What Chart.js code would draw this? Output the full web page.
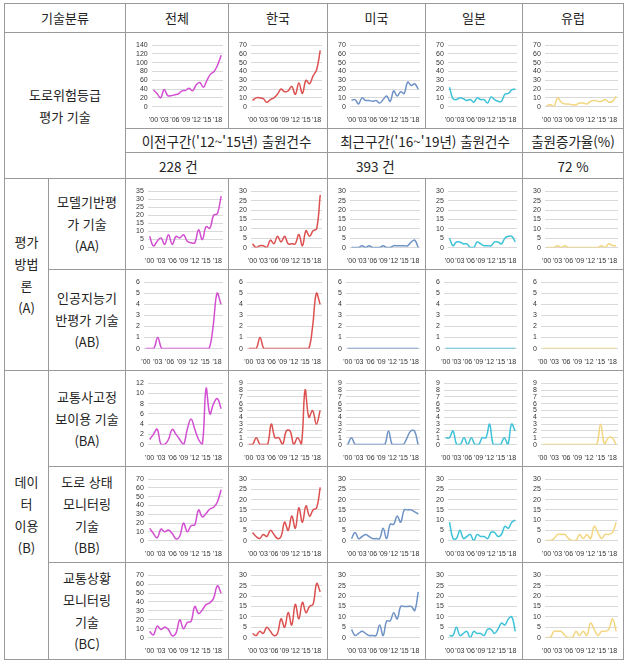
<!DOCTYPE html>
<html lang="ko">
<head>
<meta charset="utf-8">
<script src="https://cdn.jsdelivr.net/npm/chart.js@4"></script>
<style>
  html, body { margin: 0; padding: 0; background: #fff; }
  body { width: 627px; height: 669px; overflow: hidden; position: relative;
         font-family: "Noto Sans CJK KR", "Noto Sans", sans-serif; color: #222; }
  table { position: absolute; left: 4px; top: 3px; width: 619px;
          border-collapse: collapse; table-layout: fixed; }
  td, th { border: 1px solid #999; padding: 0; text-align: center; vertical-align: middle;
           font-size: 13px; line-height: 22px; font-weight: normal; }
  .info { font-size: 13.5px; }
  .box { position: relative; margin: 0 3px 0 6px; }
</style>
</head>
<body>
<table>
  <colgroup>
    <col style="width:44px"><col style="width:77px"><col style="width:103px">
    <col style="width:99px"><col style="width:98px"><col style="width:97px"><col style="width:101px">
  </colgroup>
  <tr style="height:29px">
    <th colspan="2">기술분류</th><th>전체</th><th>한국</th><th>미국</th><th>일본</th><th>유럽</th>
  </tr>
  <tr style="height:96px" id="row-risk">
    <td colspan="2" rowspan="3">도로위험등급<br>평가 기술</td>
  </tr>
  <tr style="height:24px">
    <td colspan="2" class="info">이전구간('12~'15년) 출원건수</td>
    <td colspan="2" class="info">최근구간('16~'19년) 출원건수</td>
    <td class="info">출원증가율(%)</td>
  </tr>
  <tr style="height:26px">
    <td colspan="2" class="info" id="prevCount" style="text-align:left;padding-left:33px"></td>
    <td colspan="2" class="info" id="recentCount" style="text-align:left;padding-left:28px"></td>
    <td class="info" id="growthRate"></td>
  </tr>
  <tr style="height:91px" id="row-aa">
    <td rowspan="2">평가<br>방법<br>론<br>(A)</td>
    <td>모델기반평<br>가 기술<br>(AA)</td>
  </tr>
  <tr style="height:101px" id="row-ab">
    <td>인공지능기<br>반평가 기술<br>(AB)</td>
  </tr>
  <tr style="height:96px" id="row-ba">
    <td rowspan="3">데이<br>터<br>이용<br>(B)</td>
    <td>교통사고정<br>보이용 기술<br>(BA)</td>
  </tr>
  <tr style="height:96px" id="row-bb">
    <td>도로 상태<br>모니터링<br>기술<br>(BB)</td>
  </tr>
  <tr style="height:97px" id="row-bc">
    <td>교통상황<br>모니터링<br>기술<br>(BC)</td>
  </tr>
</table>

<script>
const yearLabels = ["'00","'01","'02","'03","'04","'05","'06","'07","'08","'09",
                    "'10","'11","'12","'13","'14","'15","'16","'17","'18","'19"];
const regions = ['전체', '한국', '미국', '일본', '유럽'];
const regionColors = ['#d24fd2', '#dc5050', '#6f93c6', '#3ec2d8', '#f2d680'];

// 도로위험등급 평가 기술
const riskTotal  = [38,30,20,39,25,25,27,29,36,37,42,36,50,55,44,60,74,80,95,117];
const riskKorea  = [7,10,10,9,5,8,10,14,20,17,18,23,14,27,15,30,26,35,42,64];
const riskUS     = [7,8,3,10,7,7,6,7,4,8,12,6,18,12,17,15,28,24,26,20];
const riskJapan  = [22,9,8,10,9,7,8,5,10,8,8,4,11,8,6,6,14,15,19,20];
const riskEurope = [1,2,0,10,5,3,3,2,2,4,4,3,6,7,6,6,8,5,6,12];
const riskAxisMax  = [140, 70, 70, 70, 70];
const riskAxisStep = [20, 10, 10, 10, 10];

// 모델기반평가 기술 (AA)
const aaTotal  = [7,1,4,6,2,8,2,7,6,8,4,3,3,11,5,13,12,20,21,32];
const aaKorea  = [2,0,1,1,0,4,2,6,3,6,2,2,2,7,1,9,6,9,10,28];
const aaUS     = [0,0,0,1,0,1,0,0,0,1,0,0,1,1,1,1,1,3,4,0];
const aaJapan  = [5,1,3,3,2,2,0,0,3,2,1,1,1,3,3,2,5,6,6,3];
const aaEurope = [0,0,0,1,0,1,0,0,0,0,0,0,0,0,0,1,0,2,1,1];
const aaAxisMax  = [35, 30, 30, 30, 30];
const aaAxisStep = [5, 5, 5, 5, 5];

// 인공지능기반평가 기술 (AB)
const abTotal  = [0,0,0,1,0,0,0,0,0,0,0,0,0,0,0,0,0,2,5,4];
const abKorea  = [0,0,0,1,0,0,0,0,0,0,0,0,0,0,0,0,0,2,5,4];
const abUS     = [0,0,0,0,0,0,0,0,0,0,0,0,0,0,0,0,0,0,0,0];
const abJapan  = [0,0,0,0,0,0,0,0,0,0,0,0,0,0,0,0,0,0,0,0];
const abEurope = [0,0,0,0,0,0,0,0,0,0,0,0,0,0,0,0,0,0,0,0];
const abAxisMax  = [6, 6, 6, 6, 6];
const abAxisStep = [1, 1, 1, 1, 1];

// 교통사고정보이용 기술 (BA)
const baTotal  = [1,2,3,0,0,1,3,2,1,0,3,5,3,1,0,11,6,8,9,7];
const baKorea  = [0,0,1,0,0,0,3,1,1,0,2,2,0,1,0,8,4,5,3,5];
const baUS     = [0,1,0,0,0,0,0,0,0,0,0,2,0,0,0,0,1,2,2,0];
const baJapan  = [1,1,2,0,0,1,0,1,0,0,1,1,3,0,0,0,1,0,3,2];
const baEurope = [0,0,0,0,0,0,0,0,0,0,0,0,0,0,0,3,0,1,1,0];
const baAxisMax  = [12, 9, 9, 9, 9];
const baAxisStep = [2, 1, 1, 1, 1];

// 도로 상태 모니터링 기술 (BB)
const bbTotal  = [14,8,3,13,10,12,8,2,5,20,10,17,18,35,27,31,36,38,44,58];
const bbKorea  = [4,2,1,3,2,5,3,1,2,9,5,12,6,16,9,17,12,15,16,26];
const bbUS     = [1,4,1,2,3,2,1,1,1,6,1,8,8,12,9,15,15,15,14,13];
const bbJapan  = [9,1,1,5,1,2,3,0,3,2,2,1,4,4,2,3,7,6,9,10];
const bbEurope = [0,0,1,3,3,3,1,0,0,3,1,3,1,7,4,1,3,3,4,9];
const bbAxisMax  = [70, 30, 30, 30, 30];
const bbAxisStep = [10, 5, 5, 5, 5];

// 교통상황 모니터링 기술 (BC)
const bcTotal  = [7,3,13,9,12,9,2,5,20,10,17,18,35,27,31,37,39,44,58,50];
const bcKorea  = [2,1,3,2,5,3,1,2,9,5,12,6,16,9,17,12,15,16,26,22];
const bcUS     = [4,1,2,3,2,1,1,1,6,1,8,8,12,9,15,15,15,15,13,22];
const bcJapan  = [1,1,5,1,2,3,0,3,2,2,1,4,4,2,4,7,6,9,10,3];
const bcEurope = [0,0,3,3,3,1,0,0,3,1,3,1,7,4,1,3,3,4,9,3];
const bcAxisMax  = [70, 30, 30, 30, 30];
const bcAxisStep = [10, 5, 5, 5, 5];

// 출원건수 요약
const prevCount = 228;
const recentCount = 393;
const growthRate = 72;

document.getElementById('prevCount').textContent = prevCount + ' 건';
document.getElementById('recentCount').textContent = recentCount + ' 건';
document.getElementById('growthRate').textContent = growthRate + ' %';

const rows = [
  { id: 'row-risk', series: [riskTotal, riskKorea, riskUS, riskJapan, riskEurope], max: riskAxisMax, step: riskAxisStep },
  { id: 'row-aa', series: [aaTotal, aaKorea, aaUS, aaJapan, aaEurope], max: aaAxisMax, step: aaAxisStep },
  { id: 'row-ab', series: [abTotal, abKorea, abUS, abJapan, abEurope], max: abAxisMax, step: abAxisStep },
  { id: 'row-ba', series: [baTotal, baKorea, baUS, baJapan, baEurope], max: baAxisMax, step: baAxisStep },
  { id: 'row-bb', series: [bbTotal, bbKorea, bbUS, bbJapan, bbEurope], max: bbAxisMax, step: bbAxisStep },
  { id: 'row-bc', series: [bcTotal, bcKorea, bcUS, bcJapan, bcEurope], max: bcAxisMax, step: bcAxisStep },
];

const colWidths = [103, 99, 98, 97, 101];
const tickFont = { family: 'Liberation Sans, Arial, sans-serif', size: 7 };

rows.forEach(row => {
  const tr = document.getElementById(row.id);
  const rowH = parseInt(tr.style.height);
  row.series.forEach((values, i) => {
    const td = document.createElement('td');
    const box = document.createElement('div');
    box.className = 'box';
    box.style.width = (colWidths[i] - 10) + 'px';
    box.style.height = (rowH - 8) + 'px';
    const canvas = document.createElement('canvas');
    box.appendChild(canvas);
    td.appendChild(box);
    tr.appendChild(td);

    new Chart(canvas, {
      type: 'line',
      data: {
        labels: yearLabels,
        datasets: [{
          label: regions[i],
          data: values,
          borderColor: regionColors[i],
          borderWidth: 1.5,
          pointRadius: 0,
          tension: 0.4,
          fill: false
        }]
      },
      options: {
        responsive: true,
        maintainAspectRatio: false,
        animation: false,
        layout: { padding: { top: 3, right: 2, left: 0, bottom: 0 } },
        plugins: { legend: { display: false }, tooltip: { enabled: false } },
        scales: {
          x: {
            offset: true,
            grid: { display: false },
            border: { display: false },
            ticks: {
              autoSkip: false, maxRotation: 0, minRotation: 0, padding: 1,
              font: tickFont, color: '#333',
              callback: (v, idx) => idx % 3 === 0 ? yearLabels[idx] : ''
            }
          },
          y: {
            min: 0, max: row.max[i],
            grid: { color: '#d9d9d9', drawTicks: false },
            border: { display: false },
            ticks: { stepSize: row.step[i], autoSkip: false, font: tickFont, color: '#333', padding: 4 }
          }
        }
      }
    });
  });
});
</script>
</body>
</html>
